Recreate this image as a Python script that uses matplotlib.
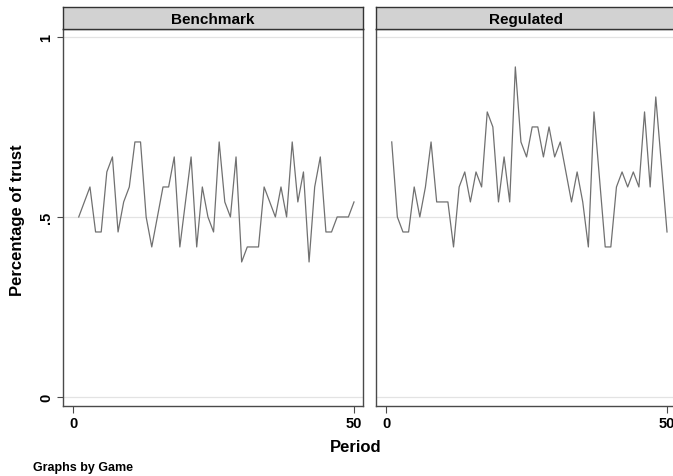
import matplotlib; matplotlib.use("Agg")
import matplotlib.pyplot as plt
import numpy as np

plt.rcParams['font.family'] = ['Liberation Sans', 'DejaVu Sans']

periods = np.arange(1, 51)
panels = ["Benchmark", "Regulated"]
benchmark = [0.5, 0.5417, 0.5833, 0.4583, 0.4583, 0.625, 0.6667, 0.4583, 0.5417, 0.5833,
             0.7083, 0.7083, 0.5, 0.4167, 0.5, 0.5833, 0.5833, 0.6667, 0.4167, 0.5417,
             0.6667, 0.4167, 0.5833, 0.5, 0.4583, 0.7083, 0.5417, 0.5, 0.6667, 0.375,
             0.4167, 0.4167, 0.4167, 0.5833, 0.5417, 0.5, 0.5833, 0.5, 0.7083, 0.5417,
             0.625, 0.375, 0.5833, 0.6667, 0.4583, 0.4583, 0.5, 0.5, 0.5, 0.5417]
regulated = [0.7083, 0.5, 0.4583, 0.4583, 0.5833, 0.5, 0.5833, 0.7083, 0.5417, 0.5417,
             0.5417, 0.4167, 0.5833, 0.625, 0.5417, 0.625, 0.5833, 0.7917, 0.75, 0.5417,
             0.6667, 0.5417, 0.9167, 0.7083, 0.6667, 0.75, 0.75, 0.6667, 0.75, 0.6667,
             0.7083, 0.625, 0.5417, 0.625, 0.5417, 0.4167, 0.7917, 0.604, 0.4167, 0.4167,
             0.5833, 0.625, 0.5833, 0.625, 0.5833, 0.7917, 0.5833, 0.8333, 0.646, 0.4583]
series = [benchmark, regulated]
yticks = [0, 0.5, 1]
ytick_labels = ["0", ".5", "1"]
xticks = [0, 50]

W, H = 673, 477
fig = plt.figure(figsize=(W/100, H/100), dpi=100)
EDGE = '#4a4a4a'

# panels in pixel coords (Stata by() layout), right one runs off the edge like the source
lefts = [63, 376]
for k, (name, vals) in enumerate(zip(panels, series)):
    x0 = lefts[k]
    ax = fig.add_axes([x0/W, 1-407/H, 300/W, 377/H])
    for y in yticks:
        ax.axhline(y, color='#e3e3e3', lw=0.9, zorder=0)
    ax.plot(periods, vals, color='#707070', lw=0.9)
    ax.set_xlim(-1.8, 51.6); ax.set_ylim(-0.025, 1.022)
    ax.set_xticks(xticks)
    ax.set_xticklabels([str(t) for t in xticks], fontsize=10.5, fontweight='bold')
    ax.tick_params(axis='x', length=5, width=0.8, color=EDGE, pad=2)
    if k == 0:
        ax.set_yticks(yticks)
        ax.set_yticklabels(ytick_labels, fontsize=10.5, fontweight='bold', rotation=90, va='center')
        ax.tick_params(axis='y', length=4, width=0.8, color=EDGE, pad=3)
    else:
        ax.set_yticks([])
    for sp in ax.spines.values():
        sp.set_color(EDGE); sp.set_linewidth(1.0)
    # strip title
    st = fig.add_axes([x0/W, 1-30/H, 300/W, 22/H])
    st.set_facecolor('#d2d2d2'); st.set_xticks([]); st.set_yticks([])
    for sp in st.spines.values():
        sp.set_color('#333333'); sp.set_linewidth(1.0)
    st.text(0.5, 0.45, name, ha='center', va='center', fontsize=11, fontweight='bold',
            transform=st.transAxes)

fig.text(18/W, 1-220/H, "Percentage of trust", rotation=90, ha='center', va='center',
         fontsize=12, fontweight='bold')
fig.text(356/W, 1-448/H, "Period", ha='center', va='center', fontsize=12, fontweight='bold')
fig.text(33/W, 1-468/H, "Graphs by Game", ha='left', va='center', fontsize=9, fontweight='bold')

plt.savefig("out.png", dpi=100, facecolor='white')
